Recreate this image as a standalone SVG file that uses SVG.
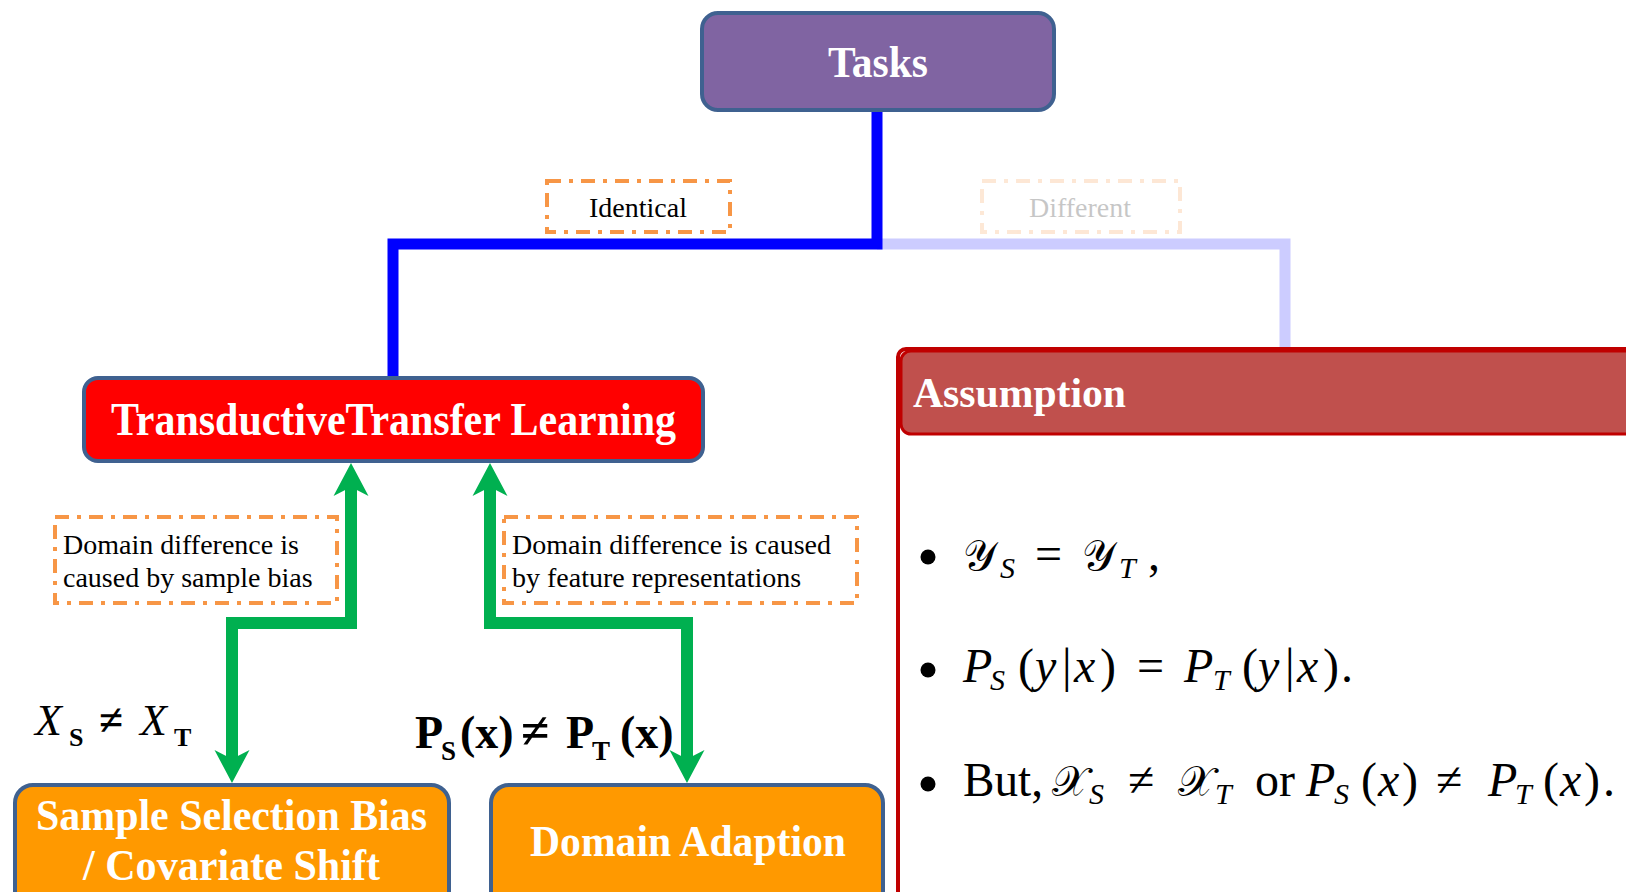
<svg xmlns="http://www.w3.org/2000/svg" width="1626" height="892" viewBox="0 0 1626 892">
<style>
.node{stroke:#3f6190;stroke-width:4}
.ttl{font-family:"Liberation Serif",serif;font-weight:bold;fill:#fff}
.lbl{fill:none;stroke:#f79646;stroke-width:4;stroke-dasharray:14 8 4 8}
.lt{font-family:"Liberation Serif",serif;font-size:28px;fill:#000}
.m{font-family:"Liberation Serif",serif;font-size:48px;fill:#000}
.i{font-style:italic}
.cal{font-family:"DejaVu Serif","DejaVu Sans",serif;font-style:normal;font-size:42px}
.sub{font-size:30px}
</style>
<defs>
<marker id="ah" markerUnits="userSpaceOnUse" markerWidth="40" markerHeight="40" viewBox="0 -20 40 40" refX="10" refY="0" orient="auto-start-reverse">
<path d="M0,-17.5 L33,0 L0,17.5 L9,0 Z" fill="#00b050"/>
</marker>
</defs>

<g id="connectors" fill="none">
<path d="M877,244 H1285 V350" stroke="#ccccff" stroke-width="11"/>
<path d="M877,111 V244 H393 V377" stroke="#0000ff" stroke-width="11"/>
<path d="M232,760 V623 H351 V486" stroke="#00b050" stroke-width="12" marker-start="url(#ah)" marker-end="url(#ah)"/>
<path d="M687,760 V623 H490 V486" stroke="#00b050" stroke-width="12" marker-start="url(#ah)" marker-end="url(#ah)"/>
</g>

<g id="tasks">
<rect class="node" x="702" y="13" width="352" height="97" rx="16" fill="#8064a2"/>
<text class="ttl" x="878" y="77" font-size="44" text-anchor="middle" textLength="100" lengthAdjust="spacingAndGlyphs">Tasks</text>
</g>

<g id="label-identical">
<rect class="lbl" x="547" y="181" width="183" height="51"/>
<text class="lt" x="638" y="217" text-anchor="middle">Identical</text>
</g>

<g id="label-different" opacity="0.22">
<rect class="lbl" x="982" y="181" width="198" height="51"/>
<text class="lt" x="1080" y="217" text-anchor="middle" fill="#999">Different</text>
</g>

<g id="transductive">
<rect class="node" x="84" y="378" width="619" height="83" rx="14" fill="#ff0000"/>
<text class="ttl" x="393.5" y="435" font-size="46" text-anchor="middle" textLength="565" lengthAdjust="spacingAndGlyphs">TransductiveTransfer Learning</text>
</g>

<g id="label-sample-bias">
<rect class="lbl" x="55" y="517" width="282" height="86"/>
<text class="lt" x="63" y="554">Domain difference is</text>
<text class="lt" x="63" y="587">caused by sample bias</text>
</g>

<g id="label-feature">
<rect class="lbl" x="504" y="517" width="353" height="86"/>
<text class="lt" x="512" y="554">Domain difference is caused</text>
<text class="lt" x="512" y="587">by feature representations</text>
</g>

<g id="cond-left">
<text x="35" y="735" font-family="Liberation Serif,serif" font-size="44"><tspan font-style="italic">X</tspan><tspan x="69" y="746" font-size="26" font-weight="bold">S</tspan><tspan x="99" y="735" font-weight="bold">≠</tspan><tspan x="140" font-style="italic">X</tspan><tspan x="174" y="746" font-size="26" font-weight="bold">T</tspan></text>
</g>

<g id="cond-right">
<text x="415" y="748" font-family="Liberation Serif,serif" font-size="46" font-weight="bold"><tspan>P</tspan><tspan x="441" y="760" font-size="27">S</tspan><tspan x="460" y="748">(x)</tspan><tspan x="521" font-size="52">≠</tspan><tspan x="566">P</tspan><tspan x="592" y="760" font-size="27">T</tspan><tspan x="620" y="748">(x)</tspan></text>
</g>

<g id="sample-selection">
<rect class="node" x="15" y="785" width="434" height="140" rx="18" fill="#ff9900"/>
<text class="ttl" x="231.5" y="830" font-size="44" text-anchor="middle" textLength="391" lengthAdjust="spacingAndGlyphs">Sample Selection Bias</text>
<text class="ttl" x="231.5" y="880" font-size="44" text-anchor="middle" textLength="297" lengthAdjust="spacingAndGlyphs">/ Covariate Shift</text>
</g>

<g id="domain-adaption">
<rect class="node" x="491" y="785" width="392" height="140" rx="18" fill="#ff9900"/>
<text class="ttl" x="688" y="856" font-size="44" text-anchor="middle" textLength="316" lengthAdjust="spacingAndGlyphs">Domain Adaption</text>
</g>

<g id="assumption">
<rect x="898" y="349" width="760" height="600" rx="8" fill="#fff" stroke="#c00000" stroke-width="4"/>
<rect x="901" y="351" width="740" height="83" rx="10" fill="#c0504d" stroke="#c00000" stroke-width="3"/>
<text class="ttl" x="913" y="407" font-size="42" textLength="213" lengthAdjust="spacingAndGlyphs">Assumption</text>

<circle cx="928" cy="557" r="7.5" fill="#000"/>
<text class="m" y="570"><tspan class="cal" x="963">𝒴</tspan><tspan class="i sub" x="1000" y="578">S</tspan><tspan x="1035" y="570">=</tspan><tspan class="cal" x="1082">𝒴</tspan><tspan class="i sub" x="1119" y="578">T</tspan><tspan x="1148" y="570">,</tspan></text>

<circle cx="928" cy="670" r="7.5" fill="#000"/>
<text class="m" y="682"><tspan class="i" x="963">P</tspan><tspan class="i sub" x="990" y="690">S</tspan><tspan x="1018" y="682">(</tspan><tspan class="i" x="1035">y</tspan><tspan x="1062">|</tspan><tspan class="i" x="1074">x</tspan><tspan x="1100">)</tspan><tspan x="1137">=</tspan><tspan class="i" x="1184">P</tspan><tspan class="i sub" x="1213" y="690">T</tspan><tspan x="1242" y="682">(</tspan><tspan class="i" x="1258">y</tspan><tspan x="1285">|</tspan><tspan class="i" x="1297">x</tspan><tspan x="1323">)</tspan><tspan x="1341">.</tspan></text>

<circle cx="928" cy="784" r="7.5" fill="#000"/>
<text class="m" y="796"><tspan x="963" textLength="80" lengthAdjust="spacingAndGlyphs">But,</tspan><tspan class="cal" x="1052">𝒳</tspan><tspan class="i sub" x="1089" y="804">S</tspan><tspan x="1128" y="796">≠</tspan><tspan class="cal" x="1178">𝒳</tspan><tspan class="i sub" x="1215" y="804">T</tspan><tspan x="1255" y="796">or</tspan><tspan class="i" x="1306">P</tspan><tspan class="i sub" x="1334" y="804">S</tspan><tspan x="1361" y="796">(</tspan><tspan class="i" x="1378">x</tspan><tspan x="1402">)</tspan><tspan x="1436">≠</tspan><tspan class="i" x="1488">P</tspan><tspan class="i sub" x="1515" y="804">T</tspan><tspan x="1543" y="796">(</tspan><tspan class="i" x="1560">x</tspan><tspan x="1584">)</tspan><tspan x="1603">.</tspan></text>
</g>
</svg>
